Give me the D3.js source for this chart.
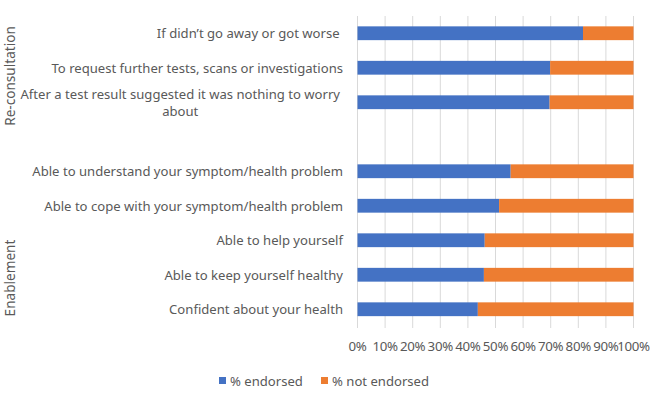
<!DOCTYPE html>
<html><head><meta charset="utf-8">
<script src="https://cdn.jsdelivr.net/npm/d3@7"></script>
<style>body{margin:0;background:#fff}svg{display:block}text{font-family:"Noto Sans",sans-serif;fill:#595959}</style>
</head><body><svg id="c" width="669" height="401"></svg>
<script>
const categories = [
  "If didn\u2019t go away or got worse ",
  "To request further tests, scans or investigations",
  "After a test result suggested it was nothing to worry about",
  "",
  "Able to understand your symptom/health problem",
  "Able to cope with your symptom/health problem",
  "Able to help yourself",
  "Able to keep yourself healthy",
  "Confident about your health"
];
const endorsed =    [0.817, 0.698, 0.696, null, 0.555, 0.513, 0.461, 0.458, 0.436];
const notEndorsed = [0.183, 0.302, 0.304, null, 0.445, 0.487, 0.539, 0.542, 0.564];
const groups = ["Re-consultation", "Enablement"];
const seriesNames = ["% endorsed", "% not endorsed"];
const ticks = [0,0.1,0.2,0.3,0.4,0.5,0.6,0.7,0.8,0.9,1];
const colors = ["#4472C4", "#ED7D31"];

const svg = d3.select("#c");
const x = d3.scaleLinear().domain([0,1]).range([357.5, 633.5]);
const keys = categories.map((c,i)=>"k"+i);
const y = d3.scaleBand().domain(keys).range([16, 326.5]).paddingInner(0.6).paddingOuter(0.3);

// gridlines
svg.append("g").selectAll("line").data(ticks).join("line")
  .attr("x1", d=>x(d)).attr("x2", d=>x(d)).attr("y1", 16).attr("y2", 328)
  .attr("stroke", "#D9D9D9").attr("stroke-width", 1);

const rows = categories.map((c,i)=>({k:keys[i], c, a:endorsed[i], b:notEndorsed[i]})).filter(d=>d.a!=null);
svg.append("g").selectAll("rect").data(rows).join("rect")
  .attr("x", x(0)).attr("y", d=>y(d.k)).attr("width", d=>x(d.a)-x(0)).attr("height", y.bandwidth())
  .attr("fill", colors[0]);
svg.append("g").selectAll("rect").data(rows).join("rect")
  .attr("x", d=>x(d.a)).attr("y", d=>y(d.k)).attr("width", d=>x(d.a+d.b)-x(d.a)).attr("height", y.bandwidth())
  .attr("fill", colors[1]);

// category labels
const lab = svg.append("g").attr("font-size", 13.1);
rows.forEach(d=>{
  const cy = y(d.k) + y.bandwidth()/2;
  if (d.c.length > 50) {
    const w = d.c.split(" ");
    const l1 = w.slice(0, -1).join(" "), l2 = w[w.length-1];
    const t1 = lab.append("text").attr("x", 340).attr("y", cy - 8.5).attr("dy","0.38em").attr("text-anchor","end").text(l1);
    const len = t1.node().getComputedTextLength();
    lab.append("text").attr("x", 340 - len/2).attr("y", cy + 8.5).attr("dy","0.38em").attr("text-anchor","middle").text(l2);
  } else {
    lab.append("text").attr("x", 343).attr("y", cy).attr("dy","0.38em").attr("text-anchor","end").style("white-space","pre").text(d.c);
  }
});

// group labels
const gy = [76, 278];
groups.forEach((g,i)=>{
  svg.append("text").attr("transform", `translate(15,${gy[i]}) rotate(-90)`)
    .attr("text-anchor","middle").attr("font-size", 13.6).text(g);
});

// x axis labels
svg.append("g").attr("font-size", 13.3).selectAll("text").data(ticks).join("text")
  .attr("x", d=>x(d)).attr("y", 346).attr("dy","0.35em").attr("text-anchor","middle")
  .attr("letter-spacing", -0.3)
  .text(d=>d3.format(".0%")(d));

// legend
const lg = svg.append("g").attr("font-size", 13.1);
const lx = [219, 321];
seriesNames.forEach((s,i)=>{
  lg.append("rect").attr("x", lx[i]).attr("y", 377).attr("width", 7).attr("height", 7).attr("fill", colors[i]);
  lg.append("text").attr("x", lx[i]+11).attr("y", 381).attr("dy","0.35em").text(s);
});
</script></body></html>
